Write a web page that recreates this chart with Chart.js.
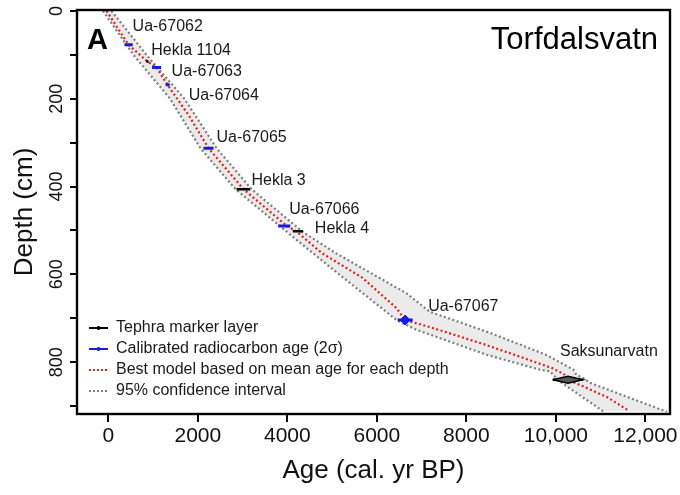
<!DOCTYPE html>
<html>
<head>
<meta charset="utf-8" />
<title>Torfdalsvatn age-depth model</title>
<style>
  html, body { margin: 0; padding: 0; background: #fff; overflow: hidden; }
  #wrap { width: 680px; height: 495px; }
</style>
</head>
<body>
<script src="https://cdn.jsdelivr.net/npm/chart.js@4/dist/chart.umd.min.js"></script>
<div id="wrap"><canvas id="chart"></canvas></div>
<script>
// best model, mean age for each depth
const modelDepth = [0, 77, 115, 129, 168, 240, 313, 406, 490, 502, 551, 608, 677, 704, 720, 735, 760, 787, 814, 828, 840, 850, 880, 910];
const modelAge = [-40, 450, 870, 1075, 1320, 1810, 2240, 3020, 3990, 4200, 4765, 5680, 6440, 6630, 7180, 7650, 8420, 9180, 9930, 10190, 10270, 10500, 11150, 11620];

// 95% confidence interval, young side and old side
const lowerDepth = [0, 100, 200, 313, 406, 521, 601, 704, 726, 783, 817, 821, 833, 844, 912];
const lowerAge = [-120, 560, 1380, 2060, 2840, 4200, 5170, 6440, 6880, 8450, 9640, 9870, 9980, 10090, 11060];
const upperDepth = [0, 100, 200, 313, 406, 503, 551, 643, 685, 733, 784, 817, 829, 836, 847, 913];
const upperAge = [70, 850, 1700, 2420, 3200, 4340, 5070, 6660, 7180, 8520, 9800, 10390, 10460, 10610, 10760, 12480];

// calibrated radiocarbon dates (2 sigma range)
const c14Labels = ['Ua-67062', 'Ua-67063', 'Ua-67064', 'Ua-67065', 'Ua-67066', 'Ua-67067'];
const c14Depth = [77, 129, 168, 313, 490, 704];
const c14Min = [360, 977, 1280, 2125, 3795, 6465];
const c14Max = [545, 1180, 1370, 2350, 4065, 6800];

// tephra marker layers
const tephraLabels = ['Hekla 1104', 'Hekla 3', 'Hekla 4', 'Saksunarvatn'];
const tephraDepth = [115, 406, 502, 840];
const tephraAge = [870, 3020, 4235, 10270];
const tephraMin = [845, 2865, 4120, 9930];
const tephraMax = [900, 3170, 4350, 10600];

const xTicks = [0, 1000, 2000, 3000, 4000, 5000, 6000, 7000, 8000, 9000, 10000, 11000, 12000];
const xTickLabels = ['0', '', '2000', '', '4000', '', '6000', '', '8000', '', '10,000', '', '12,000'];
const yTicks = [0, 100, 200, 300, 400, 500, 600, 700, 800, 900];
const yTickLabels = ['0', '', '200', '', '400', '', '600', '', '800', ''];

const FONT = "'Liberation Sans', Arial, sans-serif";
const RED = 'rgb(228,30,30)';
const BLUE = 'rgb(25,25,225)';
const GREY = 'rgb(125,125,125)';

// label offsets in px from each marker
const c14Offsets = [[4, -18], [15, 4], [21, 11], [8, -11], [5, -16], [23, -13]];
const tephraOffsets = [[4, -11], [8, -9], [17, -3], [-8, -28]];

const pts = (xs, ys) => xs.map((v, i) => ({x: v, y: ys[i]}));
const bars = (mins, maxs, ds) => {
  const out = [];
  mins.forEach((m, i) => {
    out.push({x: m, y: ds[i]}, {x: maxs[i], y: ds[i]}, {x: NaN, y: NaN});
  });
  return out;
};

// band polygon: down the young side, back up the old side
const band = pts(lowerAge, lowerDepth).concat(pts(upperAge, upperDepth).reverse());

// Saksunarvatn age distribution as a diamond
const sk = 3;
const saksun = [
  {x: tephraMin[sk], y: tephraDepth[sk]},
  {x: (tephraMin[sk] + tephraAge[sk]) / 2, y: tephraDepth[sk] - 4},
  {x: tephraAge[sk], y: tephraDepth[sk] - 8},
  {x: (tephraMax[sk] + tephraAge[sk]) / 2, y: tephraDepth[sk] - 4},
  {x: tephraMax[sk], y: tephraDepth[sk]},
  {x: (tephraMax[sk] + tephraAge[sk]) / 2, y: tephraDepth[sk] + 4},
  {x: tephraAge[sk], y: tephraDepth[sk] + 8},
  {x: (tephraMin[sk] + tephraAge[sk]) / 2, y: tephraDepth[sk] + 4},
  {x: tephraMin[sk], y: tephraDepth[sk]}
];

const extras = {
  id: 'extras',
  afterDatasetsDraw(chart) {
    const {ctx, chartArea: a, scales: {x, y}} = chart;
    ctx.save();
    ctx.strokeStyle = '#000';
    ctx.lineWidth = 2.4;
    ctx.strokeRect(a.left, a.top, a.right - a.left, a.bottom - a.top);

    ctx.fillStyle = '#1a1a1a';
    ctx.font = '16px ' + FONT;
    ctx.textAlign = 'left';
    ctx.textBaseline = 'middle';
    c14Labels.forEach((t, i) => {
      const px = x.getPixelForValue((c14Min[i] + c14Max[i]) / 2);
      const py = y.getPixelForValue(c14Depth[i]);
      ctx.fillText(t, px + c14Offsets[i][0], py + c14Offsets[i][1]);
    });
    tephraLabels.forEach((t, i) => {
      const px = x.getPixelForValue(tephraAge[i]);
      const py = y.getPixelForValue(tephraDepth[i]);
      ctx.fillText(t, px + tephraOffsets[i][0], py + tephraOffsets[i][1]);
    });

    // panel letter and site name
    ctx.textBaseline = 'alphabetic';
    ctx.fillStyle = '#000';
    ctx.font = 'bold 29px ' + FONT;
    ctx.fillText('A', a.left + 10, a.top + 39);
    ctx.font = '31px ' + FONT;
    ctx.textAlign = 'right';
    ctx.fillText('Torfdalsvatn', a.right - 12, a.top + 39);

    // legend
    const rows = [
      {text: 'Tephra marker layer', color: '#000', dash: [], dot: true},
      {text: 'Calibrated radiocarbon age (2\u03c3)', color: BLUE, dash: [], dot: true},
      {text: 'Best model based on mean age for each depth', color: RED, dash: [2, 2]},
      {text: '95% confidence interval', color: GREY, dash: [2, 2]}
    ];
    ctx.font = '16px ' + FONT;
    ctx.textAlign = 'left';
    ctx.textBaseline = 'middle';
    rows.forEach((r, i) => {
      const ly = a.bottom - 86 + i * 21;
      const lx = a.left + 12;
      ctx.strokeStyle = r.color;
      ctx.lineWidth = 2;
      ctx.setLineDash(r.dash);
      ctx.beginPath();
      ctx.moveTo(lx, ly);
      ctx.lineTo(lx + 19, ly);
      ctx.stroke();
      ctx.setLineDash([]);
      if (r.dot) {
        ctx.fillStyle = r.color;
        ctx.beginPath();
        ctx.arc(lx + 9.5, ly, 2, 0, Math.PI * 2);
        ctx.fill();
      }
      ctx.fillStyle = '#1a1a1a';
      ctx.fillText(r.text, lx + 27, ly);
    });
    ctx.restore();
  }
};

Chart.defaults.font.family = FONT;
Chart.defaults.color = '#111';

new Chart('chart', {
  type: 'scatter',
  data: {
    datasets: [
      {
        data: saksun, showLine: true, fill: 'shape', backgroundColor: 'rgb(90,90,90)',
        borderColor: '#000', borderWidth: 1.6, pointRadius: 0, order: 0
      },
      {
        data: bars(tephraMin, tephraMax, tephraDepth), showLine: true, spanGaps: false,
        borderColor: '#000', borderWidth: 2.5, pointRadius: 0, order: 1
      },
      {
        data: [{x: (c14Min[5] + c14Max[5]) / 2, y: c14Depth[5]}], pointStyle: 'rectRot',
        pointRadius: 5, backgroundColor: BLUE, borderColor: BLUE, order: 2
      },
      {
        data: bars(c14Min, c14Max, c14Depth), showLine: true, spanGaps: false,
        borderColor: BLUE, borderWidth: 3, pointRadius: 0, order: 3
      },
      {
        data: pts(modelAge, modelDepth), showLine: true, borderColor: RED,
        borderWidth: 2.2, borderDash: [2, 2.5], pointRadius: 0, order: 4
      },
      {
        data: pts(upperAge, upperDepth), showLine: true, borderColor: GREY,
        borderWidth: 2.2, borderDash: [2, 2.5], pointRadius: 0, order: 5
      },
      {
        data: pts(lowerAge, lowerDepth), showLine: true, borderColor: GREY,
        borderWidth: 2.2, borderDash: [2, 2.5], pointRadius: 0, order: 6
      },
      {
        data: band, showLine: true, fill: 'shape', backgroundColor: 'rgba(0,0,0,0.08)',
        borderWidth: 0, pointRadius: 0, order: 7
      }
    ]
  },
  options: {
    responsive: true,
    maintainAspectRatio: false,
    animation: false,
    events: [],
    layout: { padding: { left: 0, right: 10, top: 10, bottom: 0 } },
    plugins: { legend: { display: false }, tooltip: { enabled: false } },
    scales: {
      x: {
        type: 'linear', min: -700, max: 12550,
        afterBuildTicks: s => { s.ticks = xTicks.map(v => ({value: v})); },
        afterFit: s => { s.height = 81; },
        grid: { drawOnChartArea: false, drawTicks: true, tickLength: 8, color: '#000', lineWidth: 2 },
        border: { display: false },
        ticks: {
          font: { size: 21 }, color: '#111', padding: 2, maxRotation: 0,
          callback: (v, i) => xTickLabels[i]
        },
        title: { display: true, text: 'Age (cal. yr BP)', font: { size: 26 }, color: '#111', padding: { top: 0, bottom: 9 } }
      },
      y: {
        type: 'linear', reverse: true, min: -2, max: 918,
        afterBuildTicks: s => { s.ticks = yTicks.map(v => ({value: v})); },
        afterFit: s => { s.width = 77; },
        grid: { drawOnChartArea: false, drawTicks: true, tickLength: 7, color: '#000', lineWidth: 2 },
        border: { display: false },
        ticks: {
          font: { size: 18 }, color: '#111', padding: -2, minRotation: 90, maxRotation: 90,
          crossAlign: 'center', callback: (v, i) => yTickLabels[i]
        },
        title: { display: true, text: 'Depth (cm)', font: { size: 26 }, color: '#111', padding: { top: 9, bottom: 0 } }
      }
    }
  },
  plugins: [extras]
});
</script>
</body>
</html>
